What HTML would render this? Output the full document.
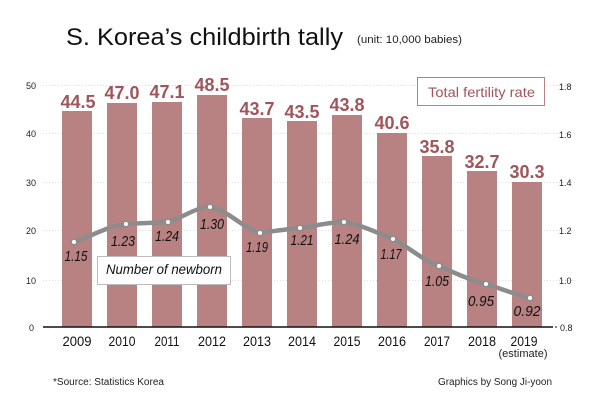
<!DOCTYPE html>
<html><head><meta charset="utf-8"><style>
html,body{margin:0;padding:0;background:#fff;}
svg{display:block;font-family:"Liberation Sans",sans-serif;}
</style></head><body>
<svg width="600" height="400" viewBox="0 0 600 400" xmlns="http://www.w3.org/2000/svg">
<rect width="600" height="400" fill="#fff"/>
<text x="66" y="45" font-size="24" fill="#111" textLength="277" lengthAdjust="spacingAndGlyphs">S. Korea’s childbirth tally</text>
<text x="357" y="43" font-size="11" fill="#222" textLength="105" lengthAdjust="spacingAndGlyphs">(unit: 10,000 babies)</text>
<g stroke="#ddd" stroke-width="1" stroke-dasharray="1,2">
<line x1="43" y1="85.5" x2="575" y2="85.5"/>
<line x1="43" y1="133.5" x2="575" y2="133.5"/>
<line x1="43" y1="182.5" x2="575" y2="182.5"/>
<line x1="43" y1="230.5" x2="575" y2="230.5"/>
<line x1="43" y1="280.5" x2="575" y2="280.5"/>
</g>
<g font-size="9" fill="#222">
<text x="26" y="89">50</text><text x="26" y="137">40</text><text x="26" y="186">30</text><text x="26" y="234">20</text><text x="26" y="284">10</text><text x="29" y="331">0</text>
<text x="559" y="90">1.8</text><text x="559" y="138">1.6</text><text x="559" y="186">1.4</text><text x="559" y="234">1.2</text><text x="559" y="284">1.0</text><text x="560" y="331">0.8</text>
</g>
<g fill="#b88283">
<rect x="62" y="111" width="30" height="216"/>
<rect x="107" y="103" width="30" height="224"/>
<rect x="152" y="102" width="30" height="225"/>
<rect x="197" y="95" width="30" height="232"/>
<rect x="242" y="118" width="30" height="209"/>
<rect x="287" y="121" width="30" height="206"/>
<rect x="332" y="115" width="30" height="212"/>
<rect x="377" y="133" width="30" height="194"/>
<rect x="422" y="156" width="30" height="171"/>
<rect x="467" y="171" width="30" height="156"/>
<rect x="512" y="182" width="30" height="145"/>
</g>
<g font-size="18" font-weight="bold" fill="#a0555b" text-anchor="middle">
<text x="78" y="108">44.5</text>
<text x="122" y="99">47.0</text>
<text x="167" y="98">47.1</text>
<text x="212" y="91">48.5</text>
<text x="257" y="115">43.7</text>
<text x="302" y="118">43.5</text>
<text x="347" y="111">43.8</text>
<text x="392" y="129">40.6</text>
<text x="437" y="153">35.8</text>
<text x="482" y="168">32.7</text>
<text x="527" y="178">30.3</text>
</g>
<line x1="43" y1="327" x2="553" y2="327" stroke="#111" stroke-width="1.5"/>
<line x1="555" y1="327" x2="557" y2="327" stroke="#111" stroke-width="1"/>
<rect x="97.5" y="256.5" width="133" height="28" fill="#fff" stroke="#bbb" stroke-width="1"/>
<text x="106" y="274" font-size="14" font-style="italic" fill="#111" textLength="116" lengthAdjust="spacingAndGlyphs">Number of newborn</text>
<rect x="417.5" y="77.5" width="127" height="28" fill="#fff" stroke="#b88283" stroke-width="1"/>
<text x="428" y="97" font-size="14" fill="#a0555b" textLength="107" lengthAdjust="spacingAndGlyphs">Total fertility rate</text>
<path d="M74,242 C92,236 108,226 126,224 C140,223 155,223 168,222 C182,218 196,207 210,207 C228,210 244,229 260,233 C274,231 288,229 300,228 C315,226 330,222 344,222 C362,225 378,233 393,239 C410,248 424,261 439,266 C455,273 470,280 486,284 C502,289 517,295 530,298" fill="none" stroke="#8c8c8c" stroke-width="4.5" stroke-linecap="round" stroke-linejoin="round"/>
<g fill="#fff" stroke="#8c8c8c" stroke-width="1.5">
<circle cx="74" cy="242" r="2.8"/><circle cx="126" cy="224" r="2.8"/><circle cx="168" cy="222" r="2.8"/><circle cx="210" cy="207" r="2.8"/><circle cx="260" cy="233" r="2.8"/><circle cx="300" cy="228" r="2.8"/><circle cx="344" cy="222" r="2.8"/><circle cx="393" cy="239" r="2.8"/><circle cx="439" cy="266" r="2.8"/><circle cx="486" cy="284" r="2.8"/><circle cx="530" cy="298" r="2.8"/>
</g>
<g font-size="15" font-style="italic" fill="#111" text-anchor="middle">
<text x="76" y="261" textLength="23" lengthAdjust="spacingAndGlyphs">1.15</text>
<text x="123" y="246" textLength="24" lengthAdjust="spacingAndGlyphs">1.23</text>
<text x="167" y="241" textLength="24" lengthAdjust="spacingAndGlyphs">1.24</text>
<text x="212" y="229" textLength="24" lengthAdjust="spacingAndGlyphs">1.30</text>
<text x="257" y="252" textLength="22" lengthAdjust="spacingAndGlyphs">1.19</text>
<text x="302" y="245" textLength="23" lengthAdjust="spacingAndGlyphs">1.21</text>
<text x="347" y="244" textLength="25" lengthAdjust="spacingAndGlyphs">1.24</text>
<text x="391" y="259" textLength="21" lengthAdjust="spacingAndGlyphs">1.17</text>
<text x="437" y="286" textLength="24" lengthAdjust="spacingAndGlyphs">1.05</text>
<text x="481" y="306" textLength="26" lengthAdjust="spacingAndGlyphs">0.95</text>
<text x="527" y="316" textLength="27" lengthAdjust="spacingAndGlyphs">0.92</text>
</g>
<g font-size="14" fill="#111" text-anchor="middle">
<text x="77" y="346" textLength="29" lengthAdjust="spacingAndGlyphs">2009</text>
<text x="122" y="346" textLength="27" lengthAdjust="spacingAndGlyphs">2010</text>
<text x="167" y="346" textLength="25" lengthAdjust="spacingAndGlyphs">2011</text>
<text x="212" y="346" textLength="28" lengthAdjust="spacingAndGlyphs">2012</text>
<text x="257" y="346" textLength="28" lengthAdjust="spacingAndGlyphs">2013</text>
<text x="302" y="346" textLength="28" lengthAdjust="spacingAndGlyphs">2014</text>
<text x="347" y="346" textLength="27" lengthAdjust="spacingAndGlyphs">2015</text>
<text x="392" y="346" textLength="28" lengthAdjust="spacingAndGlyphs">2016</text>
<text x="437" y="346" textLength="26" lengthAdjust="spacingAndGlyphs">2017</text>
<text x="482" y="346" textLength="28" lengthAdjust="spacingAndGlyphs">2018</text>
<text x="524" y="346" textLength="27" lengthAdjust="spacingAndGlyphs">2019</text>
</g>
<text x="523" y="357" font-size="11" fill="#222" text-anchor="middle" textLength="49" lengthAdjust="spacingAndGlyphs">(estimate)</text>
<text x="53" y="385" font-size="10" fill="#222" textLength="111" lengthAdjust="spacingAndGlyphs">*Source: Statistics Korea</text>
<text x="438" y="385" font-size="10" fill="#222" textLength="114" lengthAdjust="spacingAndGlyphs">Graphics by Song Ji-yoon</text>
</svg>
</body></html>
